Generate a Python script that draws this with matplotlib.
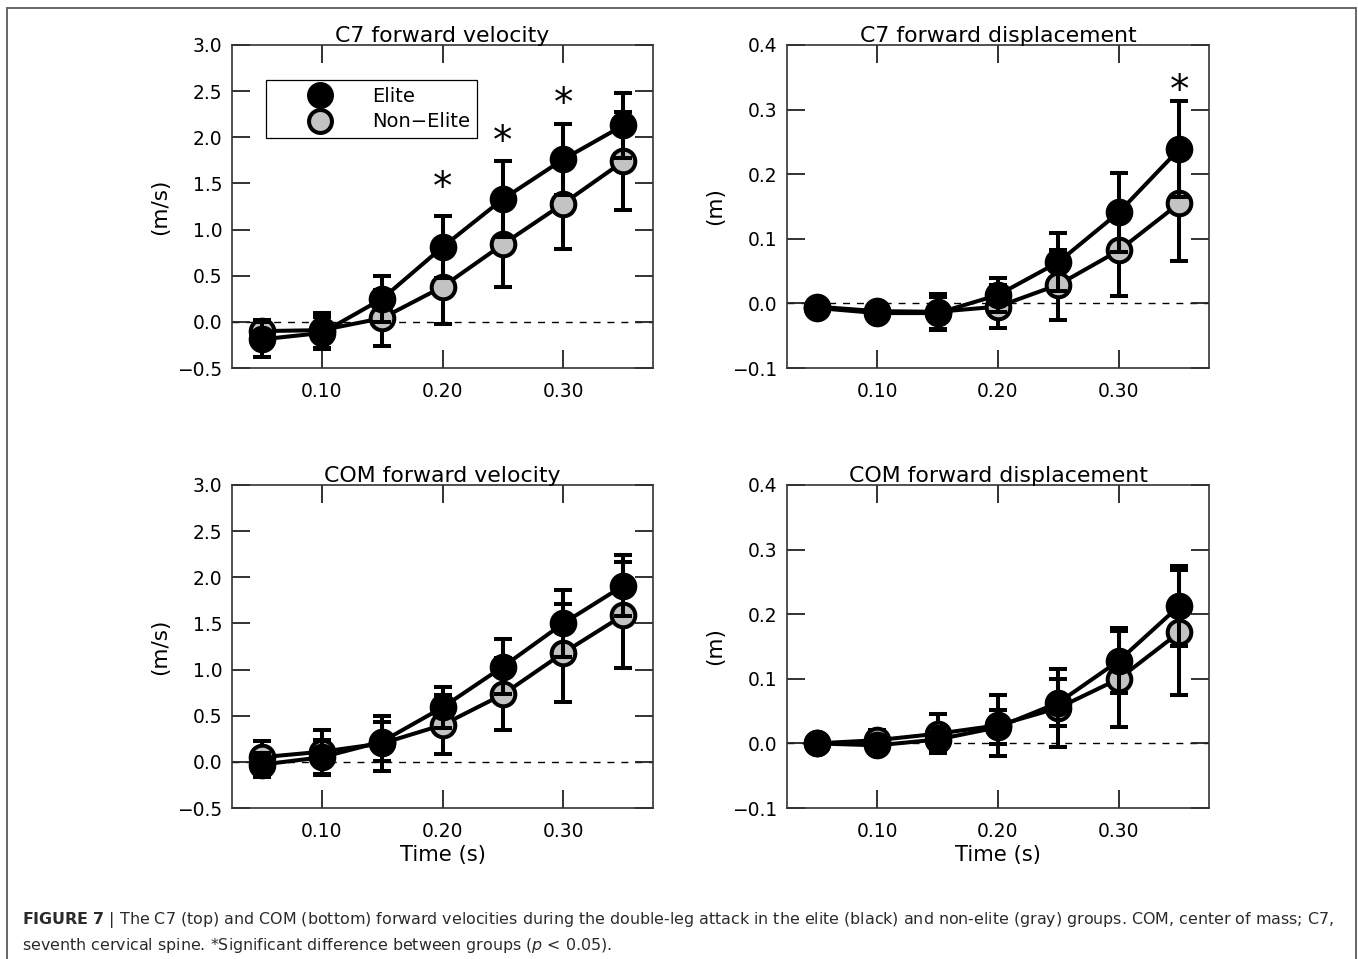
import matplotlib
matplotlib.use("Agg")
import matplotlib.pyplot as plt
from matplotlib.lines import Line2D
from matplotlib.patches import Rectangle

# sampling times (s)
time = [0.05, 0.10, 0.15, 0.20, 0.25, 0.30, 0.35]

# C7 forward velocity (m/s), mean and SD
c7_vel_elite = [-0.19, -0.12, 0.25, 0.81, 1.33, 1.76, 2.13]
c7_vel_elite_sd = [0.19, 0.17, 0.25, 0.34, 0.41, 0.38, 0.35]
c7_vel_non = [-0.10, -0.09, 0.04, 0.38, 0.84, 1.28, 1.74]
c7_vel_non_sd = [0.12, 0.19, 0.30, 0.40, 0.46, 0.49, 0.53]

# C7 forward displacement (m)
c7_disp_elite = [-0.007, -0.015, -0.015, 0.013, 0.064, 0.141, 0.239]
c7_disp_elite_sd = [0.004, 0.010, 0.025, 0.027, 0.045, 0.061, 0.075]
c7_disp_non = [-0.005, -0.012, -0.013, -0.005, 0.029, 0.082, 0.155]
c7_disp_non_sd = [0.004, 0.010, 0.028, 0.033, 0.054, 0.071, 0.089]

# COM forward velocity (m/s)
com_vel_elite = [-0.03, 0.05, 0.22, 0.59, 1.03, 1.50, 1.91]
com_vel_elite_sd = [0.13, 0.19, 0.21, 0.22, 0.30, 0.36, 0.33]
com_vel_non = [0.05, 0.11, 0.20, 0.40, 0.73, 1.18, 1.59]
com_vel_non_sd = [0.18, 0.24, 0.30, 0.32, 0.39, 0.53, 0.575]

# COM forward displacement (m)
com_disp_elite = [0.0, -0.003, 0.006, 0.025, 0.063, 0.128, 0.213]
com_disp_elite_sd = [0.003, 0.010, 0.020, 0.026, 0.036, 0.050, 0.062]
com_disp_non = [0.0, 0.005, 0.015, 0.028, 0.055, 0.100, 0.172]
com_disp_non_sd = [0.003, 0.016, 0.030, 0.047, 0.060, 0.074, 0.097]

# significance markers (time, height)
c7_vel_sig_t = [0.20, 0.25, 0.30]
c7_vel_sig_y = [1.57, 2.07, 2.48]
c7_disp_sig_t = [0.35]
c7_disp_sig_y = [0.346]

vel_ticks = [-0.5, 0.0, 0.5, 1.0, 1.5, 2.0, 2.5, 3.0]
disp_ticks = [-0.1, 0.0, 0.1, 0.2, 0.3, 0.4]
time_ticks = [0.10, 0.20, 0.30]

W, H = 1358, 959
fig = plt.figure(figsize=(W / 100, H / 100), dpi=100)
plt.rcParams["font.family"] = ["DejaVu Sans"]

GRAY = "#c3c3c3"
LW = 2.9


def add_px_axes(left, top, right, bottom):
    return fig.add_axes([left / W, 1 - bottom / H, (right - left) / W, (bottom - top) / H])


def fmt(v, nd):
    return f"{v:.{nd}f}".replace("-", "\u2212")


def draw_panel(ax, title, ylabel, yticks, elite, elite_sd, non, non_sd,
               sig_t=None, sig_y=None, xlabel=None):
    ax.axhline(0, color="black", lw=1.0, ls=(0, (5, 5)), zorder=1)

    ax.errorbar(time, non, yerr=non_sd, fmt="none", ecolor="black",
                elinewidth=LW, capsize=6.5, capthick=LW, zorder=2)
    ax.plot(time, non, "-", color="black", lw=LW, marker="o", ms=17,
            mfc=GRAY, mec="black", mew=LW, zorder=3)
    ax.errorbar(time, elite, yerr=elite_sd, fmt="none", ecolor="black",
                elinewidth=LW, capsize=6.5, capthick=LW, zorder=4)
    ax.plot(time, elite, "-", color="black", lw=LW, marker="o", ms=17.5,
            mfc="black", mec="black", mew=2.4, zorder=5)

    if sig_t:
        for t, y in zip(sig_t, sig_y):
            ax.annotate("*", xy=(t, y), xytext=(0, -16), textcoords="offset points",
                        ha="center", va="baseline", fontsize=28, zorder=6)

    ax.set_xlim(0.0255, 0.3745)
    ax.set_ylim(yticks[0], yticks[-1])
    ax.set_xticks(time_ticks)
    ax.set_xticklabels([fmt(t, 2) for t in time_ticks])
    ax.set_yticks(yticks)
    ax.set_yticklabels([fmt(t, 1) for t in yticks])

    ax.tick_params(axis="both", direction="in", length=13, width=1.3,
                   top=True, right=True, labelsize=13.4, color="#222222")
    ax.tick_params(axis="y", pad=7)
    ax.tick_params(axis="x", pad=10)
    for sp in ax.spines.values():
        sp.set_linewidth(1.2)
        sp.set_color("#333333")

    ax.set_title(title, fontsize=15.8, pad=2.4)
    ax.set_ylabel(ylabel, fontsize=15.5, labelpad=5)
    if xlabel:
        ax.set_xlabel(xlabel, fontsize=15.2, labelpad=3)


ax_tl = add_px_axes(232, 45, 653, 368)
ax_tr = add_px_axes(787, 45, 1209, 368)
ax_bl = add_px_axes(232, 485, 653, 808)
ax_br = add_px_axes(787, 485, 1209, 808)

draw_panel(ax_tl, "C7 forward velocity", "(m/s)", vel_ticks,
           c7_vel_elite, c7_vel_elite_sd, c7_vel_non, c7_vel_non_sd,
           c7_vel_sig_t, c7_vel_sig_y)
draw_panel(ax_tr, "C7 forward displacement", "(m)", disp_ticks,
           c7_disp_elite, c7_disp_elite_sd, c7_disp_non, c7_disp_non_sd,
           c7_disp_sig_t, c7_disp_sig_y)
draw_panel(ax_bl, "COM forward velocity", "(m/s)", vel_ticks,
           com_vel_elite, com_vel_elite_sd, com_vel_non, com_vel_non_sd,
           xlabel="Time (s)")
draw_panel(ax_br, "COM forward displacement", "(m)", disp_ticks,
           com_disp_elite, com_disp_elite_sd, com_disp_non, com_disp_non_sd,
           xlabel="Time (s)")

handles = [
    Line2D([], [], ls="none", marker="o", ms=17, mfc="black", mec="black", mew=2.4),
    Line2D([], [], ls="none", marker="o", ms=16.5, mfc=GRAY, mec="black", mew=LW),
]
leg = ax_tl.legend(handles, ["Elite", "Non\u2212Elite"], loc="upper left",
                   bbox_to_anchor=(0.080, 0.892), borderaxespad=0, fontsize=14,
                   handlelength=4.9, handletextpad=0.25, borderpad=0.35,
                   labelspacing=0.35, fancybox=False, framealpha=1,
                   edgecolor="black", numpoints=1)
leg.get_frame().set_linewidth(0.9)
leg.set_zorder(10)

# outer frame around figure and caption
fig.patches.append(Rectangle((7 / W, -0.01), (1356 - 7) / W, 1.01 - 8 / H,
                             transform=fig.transFigure, fill=False,
                             edgecolor="#666666", lw=1.4))

cap_color = "#2a2a2a"
fig.text(22 / W, 1 - 924 / H,
         r"$\bf{FIGURE\ 7}$ | The C7 (top) and COM (bottom) forward velocities during the "
         "double-leg attack in the elite (black) and non-elite (gray) groups. "
         "COM, center of mass; C7,",
         fontsize=11.4, color=cap_color, va="baseline", ha="left")
fig.text(22 / W, 1 - 950 / H,
         r"seventh cervical spine. *Significant difference between groups ($\it{p}$ < 0.05).",
         fontsize=11.4, color=cap_color, va="baseline", ha="left")

fig.savefig("out.png", dpi=100)
